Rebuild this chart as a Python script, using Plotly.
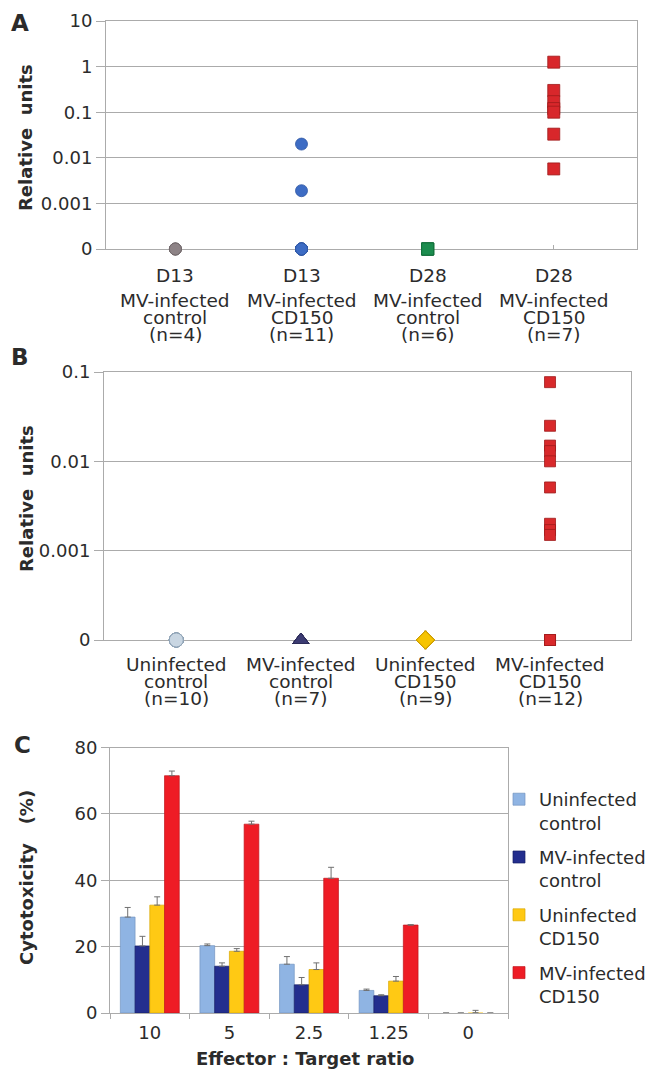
import math
import plotly.graph_objects as go

W, H = 649, 1071

# ---------------- Panel A data ----------------
a_groups = [["D13", "MV-infected", "control", "(n=4)"],
            ["D13", "MV-infected", "CD150", "(n=11)"],
            ["D28", "MV-infected", "control", "(n=6)"],
            ["D28", "MV-infected", "CD150", "(n=7)"]]
a_values = [[0, 0, 0, 0],
            [0.02, 0.0019, 0, 0, 0, 0, 0, 0, 0, 0, 0],
            [0, 0, 0, 0, 0, 0],
            [1.25, 0.30, 0.17, 0.12, 0.10, 0.033, 0.0057]]
a_ticktext = ["0", "0.001", "0.01", "0.1", "1", "10"]

# ---------------- Panel B data ----------------
b_groups = [["Uninfected", "control", "(n=10)"],
            ["MV-infected", "control", "(n=7)"],
            ["Uninfected", "CD150", "(n=9)"],
            ["MV-infected", "CD150", "(n=12)"]]
b_values = [[0, 0, 0, 0, 0, 0, 0, 0, 0, 0],
            [0, 0, 0, 0, 0, 0, 0],
            [0, 0, 0, 0, 0, 0, 0, 0, 0],
            [0.077, 0.025, 0.015, 0.013, 0.010, 0.0051, 0.0020, 0.0017, 0.0015, 0, 0, 0]]
b_ticktext = ["0", "0.001", "0.01", "0.1"]

# ---------------- Panel C data ----------------
ratios = ["10", "5", "2.5", "1.25", "0"]
c_names = ["Uninfected<br>control", "MV-infected<br>control",
           "Uninfected<br>CD150", "MV-infected<br>CD150"]
c_values = [[28.9, 20.3, 14.7, 6.8, 0],
            [20.2, 14.1, 8.5, 5.2, 0],
            [32.5, 18.6, 13.1, 9.6, 0.1],
            [71.5, 56.9, 40.6, 26.5, 0]]
c_errors = [[2.9, 0.5, 2.3, 0.4, 0],
            [2.9, 1.0, 2.2, 0.3, 0],
            [2.5, 0.8, 2.0, 1.4, 0.7],
            [1.4, 0.9, 3.3, 0.1, 0]]

# ---------------- styles ----------------
FONT = "DejaVu Sans, Verdana, sans-serif"
TXT = "#2b2b2b"
GRID = "#ababab"
a_styles = [dict(symbol="circle", color="#8d8386", line=dict(color="#6f6668", width=0.8), size=12),
            dict(symbol="circle", color="#3d6cc4", line=dict(color="#2f57a3", width=0.8), size=12),
            dict(symbol="square", color="#1b8c4e", line=dict(color="#11703a", width=0.8), size=12),
            dict(symbol="square", color="#d8272b", line=dict(color="#9e1b1b", width=0.8), size=12)]
b_styles = [dict(symbol="circle", color="#c9d6e2", line=dict(color="#8fa3b6", width=1), size=14),
            dict(symbol="triangle-up", color="#3c3b72", line=dict(color="#2a2955", width=0.8), size=14),
            dict(symbol="diamond", color="#f6c400", line=dict(color="#c99a00", width=1), size=14),
            dict(symbol="square", color="#d8292b", line=dict(color="#9e1b1b", width=0.8), size=11)]
c_colors = ["#8fb4e3", "#232e8e", "#ffc914", "#ee1c25"]
c_edges = ["#7393c0", "#161e66", "#d9a800", "#c0141b"]


def px_x(p):
    return p / W


def px_y(p):
    return 1 - p / H


def pos(v):
    # broken log axis: 0 at the bottom, then one decade per gridline from 0.001
    return 0 if v == 0 else math.log10(v) + 4


fig = go.Figure()

for i, vals in enumerate(a_values):
    fig.add_trace(go.Scatter(x=[i] * len(vals), y=[pos(v) for v in vals], mode="markers",
                             marker=a_styles[i], showlegend=False, cliponaxis=False,
                             xaxis="x", yaxis="y"))
for i, vals in enumerate(b_values):
    fig.add_trace(go.Scatter(x=[i] * len(vals), y=[pos(v) for v in vals], mode="markers",
                             marker=b_styles[i], showlegend=False, cliponaxis=False,
                             xaxis="x2", yaxis="y2"))
for k in range(4):
    fig.add_trace(go.Bar(x=ratios, y=c_values[k], name=c_names[k], legendgroup=str(k),
                         marker=dict(color=c_colors[k],
                                     line=dict(color=c_edges[k],
                                               width=[0.7 if v > 0.5 else 0 for v in c_values[k]])),
                         error_y=dict(type="data", array=c_errors[k], symmetric=False,
                                      arrayminus=[0] * 5, color="#707070", thickness=1, width=3),
                         xaxis="x3", yaxis="y3"))

common_axis = dict(showline=True, linecolor=GRID, linewidth=1, mirror=True, zeroline=False,
                   automargin=False, layer="below traces",
                   tickfont=dict(family=FONT, size=18, color=TXT), tickcolor=GRID)


def ann(x, y, text, size, xref="paper", angle=0, bold=False):
    return dict(x=x, y=y, xref=xref, yref="paper", text=("<b>%s</b>" % text) if bold else text,
                showarrow=False, xanchor="center", yanchor="middle", textangle=angle,
                font=dict(family=FONT, size=size, color=TXT))


annotations = []
a_line_y = [275, 300, 317, 334]
for i, lines in enumerate(a_groups):
    for j, t in enumerate(lines):
        annotations.append(ann(i, px_y(a_line_y[j]), t, 18.5, xref="x"))
b_line_y = [664, 681, 698]
for i, lines in enumerate(b_groups):
    for j, t in enumerate(lines):
        annotations.append(ann(i, px_y(b_line_y[j]), t, 18.5, xref="x2"))

for letter, (lx, ly) in {"A": (20, 23), "B": (20, 357), "C": (22, 745)}.items():
    annotations.append(ann(px_x(lx), px_y(ly), letter, 23, bold=True))

for t, ly in [("Relative\u00a0\u00a0units", 138), ("Relative\u00a0\u00a0units", 499),
              ("Cytotoxicity\u00a0\u00a0\u00a0(%)", 878)]:
    annotations.append(ann(px_x(26), px_y(ly), t, 18, angle=-90, bold=True))
annotations.append(ann(px_x(305), px_y(1058), "Effector : Target ratio", 18, bold=True))

fig.update_layout(
    width=W, height=H, autosize=False, margin=dict(l=0, r=0, t=0, b=0, pad=0, autoexpand=False),
    paper_bgcolor="white", plot_bgcolor="white",
    font=dict(family=FONT, color=TXT),
    barmode="group", bargap=0.26, bargroupgap=0,
    xaxis=dict(domain=[px_x(106), px_x(637)], range=[-0.55, 3.66], anchor="y",
               tickvals=[0, 1, 2, 3], showticklabels=False, ticks="inside", ticklen=4,
               showgrid=False, **common_axis),
    yaxis=dict(domain=[px_y(249), px_y(21)], range=[0, 5], anchor="x",
               tickvals=list(range(len(a_ticktext))), ticktext=a_ticktext,
               ticks="outside", ticklen=9, showgrid=True, gridcolor=GRID, **common_axis),
    xaxis2=dict(domain=[px_x(104), px_x(631)], range=[-0.58, 3.65], anchor="y2",
                tickvals=[0, 1, 2, 3], showticklabels=False, ticks="", showgrid=False, **common_axis),
    yaxis2=dict(domain=[px_y(640), px_y(372)], range=[0, 3], anchor="x2",
                tickvals=list(range(len(b_ticktext))), ticktext=b_ticktext,
                ticks="outside", ticklen=9, showgrid=True, gridcolor=GRID, **common_axis),
    xaxis3=dict(domain=[px_x(110), px_x(508)], anchor="y3", type="category",
                ticks="outside", tickson="boundaries", ticklen=5, ticklabelstandoff=3,
                showgrid=False, **common_axis),
    yaxis3=dict(domain=[px_y(1013), px_y(747.5)], range=[0, 80], anchor="x3",
                tickvals=[0, 20, 40, 60, 80], ticks="outside", ticklen=8,
                showgrid=True, gridcolor=GRID, **common_axis),
    legend=dict(x=px_x(499), y=px_y(781), xanchor="left", yanchor="top",
                font=dict(family=FONT, size=18, color=TXT), bgcolor="rgba(0,0,0,0)",
                traceorder="grouped", tracegroupgap=8, valign="top", itemwidth=30),
    annotations=annotations,
)

# the page's default 8px body margin would shift the figure inside the window
fig.write_html("out.html", config={"displayModeBar": False},
               post_script="document.body.style.margin='0px';")
